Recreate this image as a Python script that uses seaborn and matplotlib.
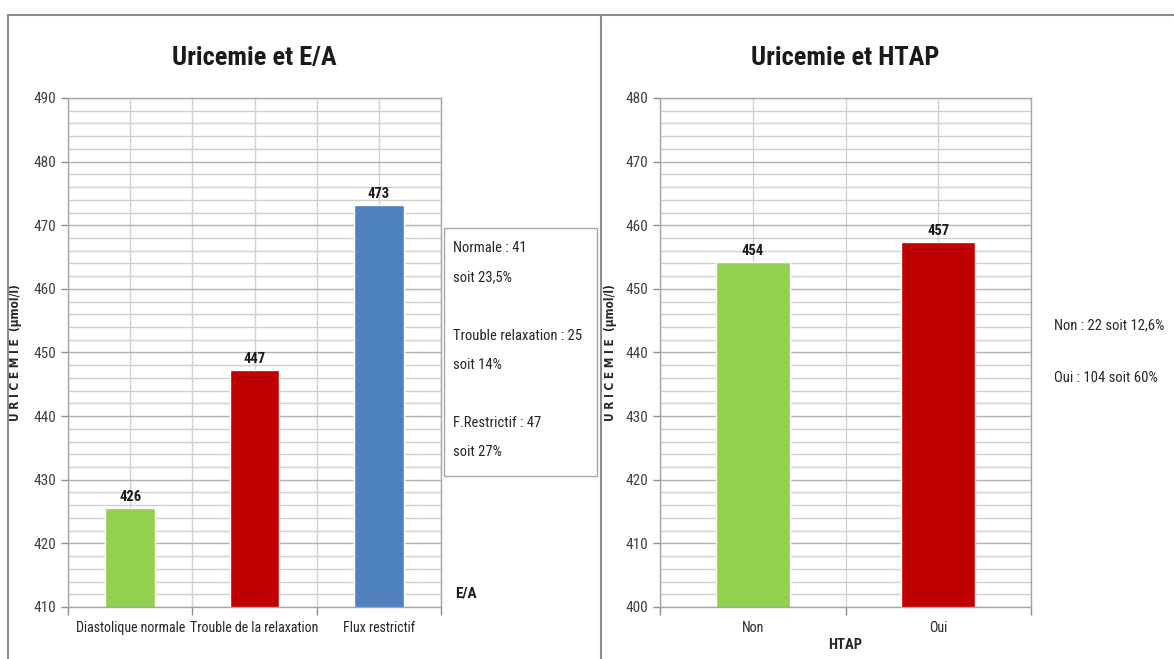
import numpy as np
import pandas as pd
import matplotlib
matplotlib.use("Agg")
import matplotlib.pyplot as plt
import seaborn as sns
from matplotlib import font_manager
from matplotlib.patches import Rectangle
from matplotlib.lines import Line2D

# --- data -------------------------------------------------------------
ea_categories = ["Diastolique normale", "Trouble de la relaxation", "Flux restrictif"]
ea_values = [425.6, 447.2, 473.2]
ea_colors = ["#92D050", "#C00000", "#4F81BD"]
ea_note = ["Normale : 41", "soit 23,5%", "",
           "Trouble relaxation : 25", "soit 14%", "",
           "F.Restrictif : 47", "soit 27%"]

htap_categories = ["Non", "Oui"]
htap_values = [454.2, 457.4]
htap_colors = ["#92D050", "#C00000"]
htap_note = ["Non : 22 soit 12,6%", "", "Oui : 104 soit 60%"]

sns.set_theme(style="white")

# a condensed face looks closest to the original Calibri text
installed = {f.name for f in font_manager.fontManager.ttflist}
candidates = ["Liberation Sans Narrow", "Roboto Condensed", "Open Sans Condensed",
              "Noto Sans", "Liberation Sans"]
narrow = next((n for n in candidates if n in installed), "DejaVu Sans")
plt.rcParams["font.family"] = [narrow, "DejaVu Sans"]
plt.rcParams["font.stretch"] = "condensed"
plt.rcParams["text.color"] = "#1a1a1a"

W, H = 1174, 659
fig = plt.figure(figsize=(W / 100, H / 100), dpi=100)


def fx(px):
    return px / W


def fy(py):
    return 1 - py / H


def style_axes(ax, lo, hi, ncat, label_x):
    ax.set_ylim(lo, hi)
    ax.set_xlim(-0.5, ncat - 0.5)
    ax.set_yticks(np.arange(lo, hi + 1, 10))
    ax.set_yticks(np.arange(lo, hi + 1, 2), minor=True)
    ax.set_xticks(np.arange(-0.5, ncat, 1.0), minor=True)
    ax.set_axisbelow(True)
    ax.grid(True, which="major", axis="y", color="#B0B0B0", lw=1.0)
    ax.grid(True, which="minor", axis="y", color="#D0D0D0", lw=1.0)
    ax.grid(True, which="both", axis="x", color="#D0D0D0", lw=1.0)
    ax.tick_params(axis="y", which="major", length=5, color="#8C8C8C",
                   labelsize=11, labelcolor="#404040", left=True, width=1)
    ax.tick_params(axis="y", which="minor", length=0)
    ax.tick_params(axis="x", which="major", length=0, labelsize=10,
                   labelcolor="#262626", pad=10)
    ax.tick_params(axis="x", which="minor", length=6, color="#8C8C8C",
                   bottom=True, width=1)
    for s in ax.spines.values():
        s.set_color("#A6A6A6")
        s.set_linewidth(1)
    ax.set_ylabel("U R I C E M I E  (µmol/l)", fontsize=8.5, fontweight="bold",
                  family=["DejaVu Sans"])
    ax.yaxis.set_label_coords(label_x, 0.5)
    for c in ax.containers:
        ax.bar_label(c, fmt="%.0f", padding=3, fontsize=10.5, fontweight="bold")


# --- left panel -------------------------------------------------------
ax1 = fig.add_axes([fx(68), fy(607), fx(441 - 68), fy(98) - fy(607)])
sns.barplot(x=ea_categories, y=ea_values, hue=ea_categories, palette=ea_colors,
            width=0.4, saturation=1, legend=False, ax=ax1)
style_axes(ax1, 410, 490, len(ea_categories), (22 - 68) / 373)
ax1.set_title("Uricemie et E/A", fontsize=19, fontweight="bold", pad=24)
fig.text(fx(455), fy(594), "E/A", fontsize=11, fontweight="bold",
         va="center", ha="left")

fig.add_artist(Rectangle((fx(444), fy(476)), fx(597 - 444), fy(228) - fy(476),
                         transform=fig.transFigure, fill=False,
                         edgecolor="#A6A6A6", lw=1))
fig.text(fx(453), fy(241), "\n".join(ea_note), fontsize=10.5, va="top",
         ha="left", linespacing=2.38, color="#262626")

# --- right panel ------------------------------------------------------
ax2 = fig.add_axes([fx(660), fy(607), fx(1031 - 660), fy(98) - fy(607)])
sns.barplot(x=htap_categories, y=htap_values, hue=htap_categories,
            palette=htap_colors, width=0.4, saturation=1, legend=False, ax=ax2)
style_axes(ax2, 400, 480, len(htap_categories), (617 - 660) / 371)
ax2.set_title("Uricemie et HTAP", fontsize=19, fontweight="bold", pad=24)
ax2.set_xlabel("HTAP", fontsize=10.5, fontweight="bold", labelpad=2)
fig.text(fx(1054), fy(318), "\n".join(htap_note), fontsize=10.5, va="top",
         ha="left", linespacing=2.15, color="#262626")

# --- panel borders ----------------------------------------------------
border = dict(transform=fig.transFigure, color="#8C8C8C", lw=1.5)
fig.add_artist(Line2D([fx(8), fx(8)], [0, fy(15)], **border))
fig.add_artist(Line2D([fx(8), 1], [fy(15), fy(15)], **border))
fig.add_artist(Line2D([fx(601), fx(601)], [0, fy(15)], **border))

fig.savefig("out.png", dpi=100)
